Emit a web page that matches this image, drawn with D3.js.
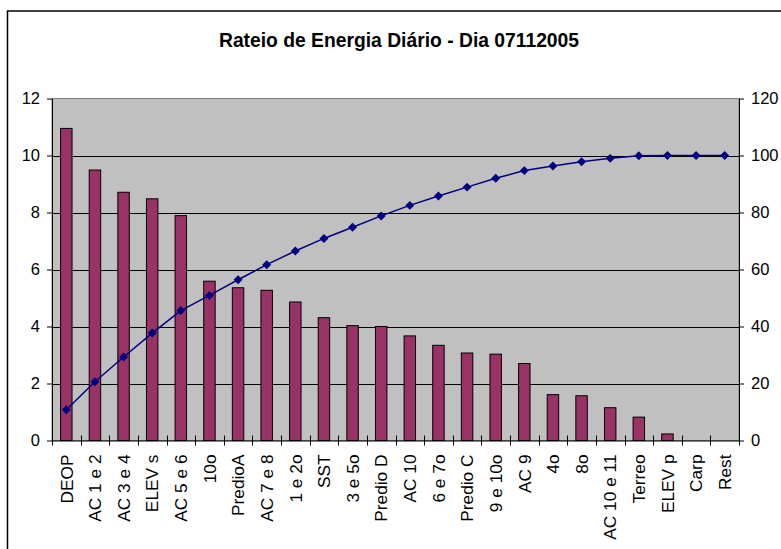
<!DOCTYPE html>
<html>
<head>
<meta charset="utf-8">
<script src="https://cdn.jsdelivr.net/npm/d3@7"></script>
<style>
	body { margin: 0; background: #fff; }
	svg { display: block; font-family: Arial, "Liberation Sans", sans-serif; }
</style>
</head>
<body>
<div id="chart"></div>
<script>
const categories = ["DEOP", "AC 1 e 2", "AC 3 e 4", "ELEV s", "AC 5 e 6", "10o", "PredioA", "AC 7 e 8", "1 e 2o", "SST", "3 e 5o", "Predio D", "AC 10", "6 e 7o", "Predio C", "9 e 10o", "AC 9", "4o", "8o", "AC 10 e 11", "Terreo", "ELEV p", "Carp", "Rest"];
const shares = [10.95, 9.49, 8.71, 8.48, 7.89, 5.59, 5.36, 5.27, 4.86, 4.31, 4.03, 4.0, 3.67, 3.34, 3.07, 3.03, 2.70, 1.61, 1.57, 1.15, 0.82, 0.23, 0, 0];
const cumulative = [10.8, 20.6, 29.3, 37.7, 45.6, 50.9, 56.4, 61.7, 66.5, 70.9, 74.8, 78.8, 82.5, 85.8, 88.9, 92.0, 94.7, 96.3, 97.8, 99.0, 99.9, 100, 100, 100];
const leftTicks = [0, 2, 4, 6, 8, 10, 12];
const rightTicks = [0, 20, 40, 60, 80, 100, 120];
const title = "Rateio de Energia Diário - Dia 07112005";

const svg = d3.select("#chart").append("svg")
	.attr("width", 781)
	.attr("height", 549);

// outer chart border (runs off the picture on the right/bottom)
svg.append("rect")
	.attr("x", 7.5).attr("y", 11)
	.attr("width", 800).attr("height", 600)
	.style("fill", "#fff")
	.style("stroke", "#000")
	.style("stroke-width", 1.5);

svg.append("text")
	.attr("x", 399).attr("y", 47)
	.attr("text-anchor", "middle")
	.style("font-weight", "bold")
	.style("font-size", "19.3px")
	.text(title);

const plotL = 52, plotR = 739, plotT = 98.5, plotB = 440.5;

const xs = d3.scaleBand().domain(categories).range([plotL, plotR]);
const yl = d3.scaleLinear().domain([0, 12]).range([plotB, plotT]);
const yr = d3.scaleLinear().domain([0, 120]).range([plotB, plotT]);

svg.append("rect")
	.attr("x", plotL).attr("y", plotT)
	.attr("width", plotR - plotL).attr("height", plotB - plotT)
	.style("fill", "#c0c0c0")
	.style("stroke", "#808080");

svg.append("g")
	.selectAll("line")
	.data(leftTicks.slice(1, -1)).enter().append("line")
		.attr("x1", plotL).attr("x2", plotR)
		.attr("y1", d => Math.round(yl(d)) + 0.5)
		.attr("y2", d => Math.round(yl(d)) + 0.5)
		.style("stroke", "#000");

const barW = xs.bandwidth() * 0.4;
svg.append("g")
	.selectAll("rect")
	.data(shares.map((v, i) => ({ cat: categories[i], v: v })).filter(d => d.v > 0)).enter().append("rect")
		.attr("x", d => xs(d.cat) + (xs.bandwidth() - barW) / 2)
		.attr("y", d => yl(d.v))
		.attr("width", barW)
		.attr("height", d => plotB - yl(d.v))
		.style("fill", "#993366")
		.style("stroke", "#000")
		.style("stroke-width", 1);

const pts = cumulative.map((v, i) => ({ x: xs(categories[i]) + xs.bandwidth() / 2, y: yr(v) }));

svg.append("path")
	.datum(pts)
	.attr("d", d3.line().x(d => d.x).y(d => d.y))
	.style("fill", "none")
	.style("stroke", "#000080")
	.style("stroke-width", 1.5);

svg.append("g")
	.selectAll("path")
	.data(pts).enter().append("path")
		.attr("transform", d => "translate(" + d.x + "," + d.y + ") rotate(45)")
		.attr("d", d3.symbol(d3.symbolSquare, 40))
		.style("fill", "#000080");

// axes
const leftAxis = svg.append("g")
	.attr("transform", "translate(" + plotL + ",0)")
	.call(d3.axisLeft(yl).tickValues(leftTicks).tickSize(5).tickSizeOuter(0).tickPadding(7));

const rightAxis = svg.append("g")
	.attr("transform", "translate(" + plotR + ",0)")
	.call(d3.axisRight(yr).tickValues(rightTicks).tickSize(5).tickSizeOuter(0).tickPadding(7));

const bottomAxis = svg.append("g")
	.attr("transform", "translate(0," + plotB + ")")
	.call(d3.axisBottom(xs).tickSize(0).tickSizeOuter(0));

bottomAxis.selectAll("text")
	.attr("transform", "rotate(-90)")
	.attr("x", -14)
	.attr("y", 0)
	.attr("dy", "0.36em")
	.style("text-anchor", "end");

// category boundary tick marks
svg.append("g")
	.selectAll("line")
	.data(categories.map(d => xs(d)).concat([plotR])).enter().append("line")
		.attr("x1", d => Math.round(d) + 0.5).attr("x2", d => Math.round(d) + 0.5)
		.attr("y1", plotB - 5).attr("y2", plotB + 5)
		.style("stroke", "#000");

[leftAxis, rightAxis, bottomAxis].forEach(g => {
	g.selectAll("text").style("font-size", "16.5px").style("font-family", "Arial, 'Liberation Sans', sans-serif").style("fill", "#000");
	g.selectAll("path, line").style("stroke", "#000");
});
bottomAxis.selectAll("text").style("font-size", "17.3px");
</script>
</body>
</html>
